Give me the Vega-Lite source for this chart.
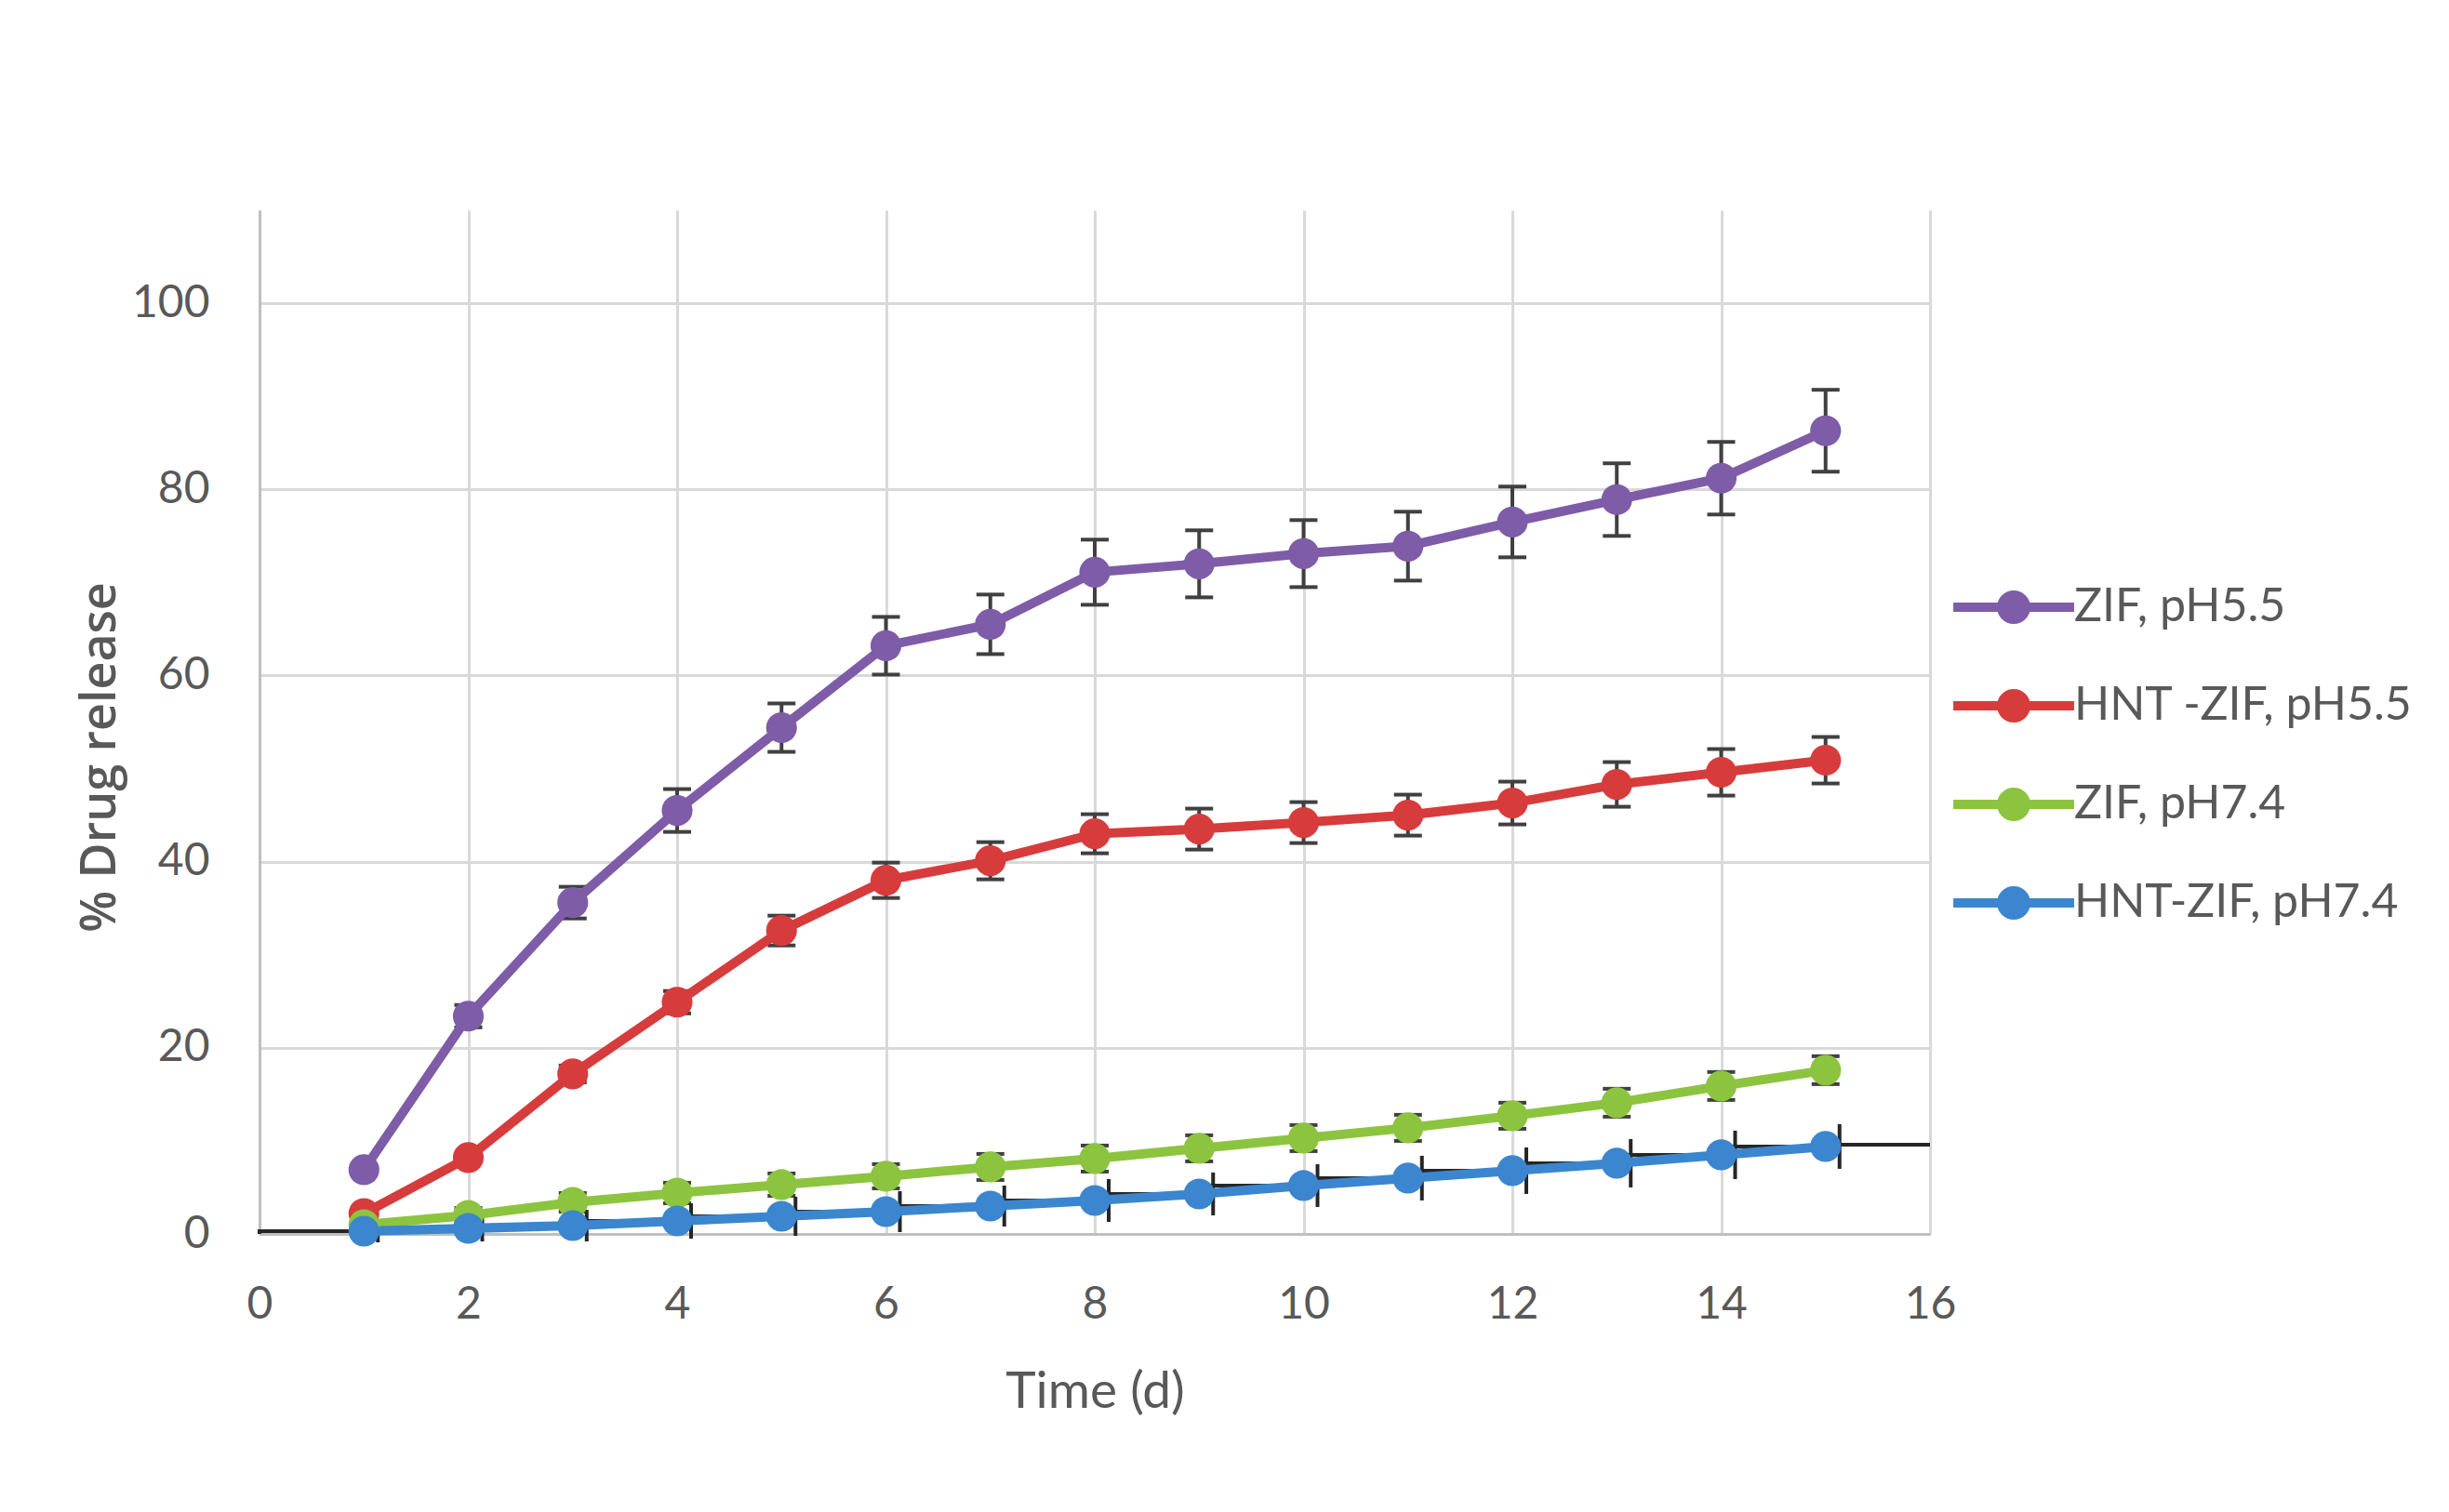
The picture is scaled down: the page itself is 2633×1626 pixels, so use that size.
{
  "$schema": "https://vega.github.io/schema/vega-lite/v6.json",
  "width": 1796,
  "height": 1101,
  "autosize": {"type": "none"},
  "padding": {"left": 279, "top": 226, "right": 558, "bottom": 299},
  "background": "white",
  "config": {
    "view": {"stroke": null},
    "font": "Lato",
    "axis": {
      "gridColor": "#D9D9D9",
      "gridWidth": 3,
      "domainColor": "#BFBFBF",
      "domainWidth": 3,
      "ticks": false,
      "labelFont": "Lato",
      "labelFontSize": 48,
      "labelColor": "#595959",
      "labelFlush": false,
      "titleColor": "#595959"
    }
  },
  "datasets": {
    "release": [
      {"s": "ZIF, pH5.5", "t": 1, "y": 6.9, "lo": 6.5, "hi": 7.3},
      {"s": "ZIF, pH5.5", "t": 2, "y": 23.4, "lo": 22.2, "hi": 24.6},
      {"s": "ZIF, pH5.5", "t": 3, "y": 35.6, "lo": 33.9, "hi": 37.3},
      {"s": "ZIF, pH5.5", "t": 4, "y": 45.5, "lo": 43.2, "hi": 47.8},
      {"s": "ZIF, pH5.5", "t": 5, "y": 54.4, "lo": 51.8, "hi": 57.0},
      {"s": "ZIF, pH5.5", "t": 6, "y": 63.2, "lo": 60.1, "hi": 66.3},
      {"s": "ZIF, pH5.5", "t": 7, "y": 65.5, "lo": 62.3, "hi": 68.7},
      {"s": "ZIF, pH5.5", "t": 8, "y": 71.1, "lo": 67.6, "hi": 74.6},
      {"s": "ZIF, pH5.5", "t": 9, "y": 72.0, "lo": 68.4, "hi": 75.6},
      {"s": "ZIF, pH5.5", "t": 10, "y": 73.1, "lo": 69.5, "hi": 76.7},
      {"s": "ZIF, pH5.5", "t": 11, "y": 73.9, "lo": 70.2, "hi": 77.6},
      {"s": "ZIF, pH5.5", "t": 12, "y": 76.5, "lo": 72.7, "hi": 80.3},
      {"s": "ZIF, pH5.5", "t": 13, "y": 78.9, "lo": 75.0, "hi": 82.8},
      {"s": "ZIF, pH5.5", "t": 14, "y": 81.2, "lo": 77.3, "hi": 85.1},
      {"s": "ZIF, pH5.5", "t": 15, "y": 86.3, "lo": 81.9, "hi": 90.7},
      {"s": "HNT -ZIF, pH5.5", "t": 1, "y": 2.2, "lo": 2.1, "hi": 2.3},
      {"s": "HNT -ZIF, pH5.5", "t": 2, "y": 8.2, "lo": 7.8, "hi": 8.6},
      {"s": "HNT -ZIF, pH5.5", "t": 3, "y": 17.2, "lo": 16.3, "hi": 18.1},
      {"s": "HNT -ZIF, pH5.5", "t": 4, "y": 24.9, "lo": 23.7, "hi": 26.1},
      {"s": "HNT -ZIF, pH5.5", "t": 5, "y": 32.6, "lo": 31.0, "hi": 34.2},
      {"s": "HNT -ZIF, pH5.5", "t": 6, "y": 38.0, "lo": 36.1, "hi": 39.9},
      {"s": "HNT -ZIF, pH5.5", "t": 7, "y": 40.1, "lo": 38.1, "hi": 42.1},
      {"s": "HNT -ZIF, pH5.5", "t": 8, "y": 43.0, "lo": 40.9, "hi": 45.1},
      {"s": "HNT -ZIF, pH5.5", "t": 9, "y": 43.5, "lo": 41.3, "hi": 45.7},
      {"s": "HNT -ZIF, pH5.5", "t": 10, "y": 44.2, "lo": 42.0, "hi": 46.4},
      {"s": "HNT -ZIF, pH5.5", "t": 11, "y": 45.0, "lo": 42.8, "hi": 47.2},
      {"s": "HNT -ZIF, pH5.5", "t": 12, "y": 46.3, "lo": 44.0, "hi": 48.6},
      {"s": "HNT -ZIF, pH5.5", "t": 13, "y": 48.3, "lo": 45.9, "hi": 50.7},
      {"s": "HNT -ZIF, pH5.5", "t": 14, "y": 49.6, "lo": 47.1, "hi": 52.1},
      {"s": "HNT -ZIF, pH5.5", "t": 15, "y": 50.9, "lo": 48.4, "hi": 53.4},
      {"s": "ZIF, pH7.4", "t": 1, "y": 1.0, "lo": 0.4, "hi": 1.6},
      {"s": "ZIF, pH7.4", "t": 2, "y": 2.0, "lo": 1.2, "hi": 2.8},
      {"s": "ZIF, pH7.4", "t": 3, "y": 3.4, "lo": 2.4, "hi": 4.4},
      {"s": "ZIF, pH7.4", "t": 4, "y": 4.4, "lo": 3.3, "hi": 5.5},
      {"s": "ZIF, pH7.4", "t": 5, "y": 5.3, "lo": 4.1, "hi": 6.5},
      {"s": "ZIF, pH7.4", "t": 6, "y": 6.2, "lo": 4.9, "hi": 7.5},
      {"s": "ZIF, pH7.4", "t": 7, "y": 7.2, "lo": 5.8, "hi": 8.6},
      {"s": "ZIF, pH7.4", "t": 8, "y": 8.1, "lo": 6.7, "hi": 9.5},
      {"s": "ZIF, pH7.4", "t": 9, "y": 9.2, "lo": 7.8, "hi": 10.6},
      {"s": "ZIF, pH7.4", "t": 10, "y": 10.3, "lo": 8.9, "hi": 11.7},
      {"s": "ZIF, pH7.4", "t": 11, "y": 11.4, "lo": 10.0, "hi": 12.8},
      {"s": "ZIF, pH7.4", "t": 12, "y": 12.7, "lo": 11.3, "hi": 14.1},
      {"s": "ZIF, pH7.4", "t": 13, "y": 14.1, "lo": 12.6, "hi": 15.6},
      {"s": "ZIF, pH7.4", "t": 14, "y": 15.9, "lo": 14.4, "hi": 17.4},
      {"s": "ZIF, pH7.4", "t": 15, "y": 17.6, "lo": 16.1, "hi": 19.1},
      {"s": "HNT-ZIF, pH7.4", "t": 1, "y": 0.3, "lo": -0.9, "hi": 1.5},
      {"s": "HNT-ZIF, pH7.4", "t": 2, "y": 0.6, "lo": -0.8, "hi": 2.0},
      {"s": "HNT-ZIF, pH7.4", "t": 3, "y": 0.9, "lo": -0.8, "hi": 2.6},
      {"s": "HNT-ZIF, pH7.4", "t": 4, "y": 1.4, "lo": -0.5, "hi": 3.3},
      {"s": "HNT-ZIF, pH7.4", "t": 5, "y": 1.9, "lo": -0.2, "hi": 4.0},
      {"s": "HNT-ZIF, pH7.4", "t": 6, "y": 2.4, "lo": 0.2, "hi": 4.6},
      {"s": "HNT-ZIF, pH7.4", "t": 7, "y": 3.0, "lo": 0.8, "hi": 5.2},
      {"s": "HNT-ZIF, pH7.4", "t": 8, "y": 3.6, "lo": 1.3, "hi": 5.9},
      {"s": "HNT-ZIF, pH7.4", "t": 9, "y": 4.3, "lo": 2.0, "hi": 6.6},
      {"s": "HNT-ZIF, pH7.4", "t": 10, "y": 5.2, "lo": 2.9, "hi": 7.5},
      {"s": "HNT-ZIF, pH7.4", "t": 11, "y": 6.0, "lo": 3.6, "hi": 8.4},
      {"s": "HNT-ZIF, pH7.4", "t": 12, "y": 6.8, "lo": 4.3, "hi": 9.3},
      {"s": "HNT-ZIF, pH7.4", "t": 13, "y": 7.6, "lo": 5.0, "hi": 10.2},
      {"s": "HNT-ZIF, pH7.4", "t": 14, "y": 8.5, "lo": 5.9, "hi": 11.1},
      {"s": "HNT-ZIF, pH7.4", "t": 15, "y": 9.4, "lo": 7.0, "hi": 11.8}
    ],
    "steps": [
      {"t": 0, "y": 0}, {"t": 1, "y": 0.3}, {"t": 2, "y": 0.6}, {"t": 3, "y": 0.9},
      {"t": 4, "y": 1.4}, {"t": 5, "y": 1.9}, {"t": 6, "y": 2.4}, {"t": 7, "y": 3.0},
      {"t": 8, "y": 3.6}, {"t": 9, "y": 4.3}, {"t": 10, "y": 5.2}, {"t": 11, "y": 6.0},
      {"t": 12, "y": 6.8}, {"t": 13, "y": 7.6}, {"t": 14, "y": 8.5}, {"t": 15, "y": 9.4},
      {"t": 16, "y": 9.6}
    ]
  },
  "encoding": {
    "x": {
      "field": "t",
      "type": "quantitative",
      "scale": {"domain": [0, 16], "nice": false},
      "axis": {
        "values": [0, 2, 4, 6, 8, 10, 12, 14, 16],
        "labelBaseline": "alphabetic",
        "labelPadding": 90,
        "title": "Time (d)",
        "titleFont": "Lato",
        "titleFontSize": 55,
        "titleFontWeight": "normal",
        "titleBaseline": "alphabetic",
        "titleY": 186
      }
    }
  },
  "layer": [
    {
      "data": {"name": "steps"},
      "mark": {"type": "line", "interpolate": "step-before", "color": "#262626", "strokeWidth": 4},
      "encoding": {
        "y": {
          "field": "y",
          "type": "quantitative",
          "scale": {"domain": [0, 110], "nice": false},
          "title": "% Drug release",
          "axis": {
            "values": [0, 20, 40, 60, 80, 100],
            "labelPadding": 54,
            "titleFont": "Open Sans",
            "titleFontSize": 52,
            "titleFontWeight": 600,
            "titleAngle": 270,
            "titleAlign": "center",
            "titleBaseline": "middle",
            "titleX": -172,
            "titleY": 588
          }
        }
      }
    },
    {
      "data": {"name": "release"},
      "transform": [{"filter": "datum.s != 'HNT-ZIF, pH7.4'"}],
      "mark": {
        "type": "errorbar",
        "ticks": {"size": 30, "thickness": 4, "color": "#404040", "opacity": 1},
        "rule": {"color": "#404040", "strokeWidth": 4}
      },
      "encoding": {
        "y": {"field": "lo", "type": "quantitative", "title": "% Drug release"},
        "y2": {"field": "hi"}
      }
    },
    {
      "data": {"name": "release"},
      "transform": [{"filter": "datum.s == 'HNT-ZIF, pH7.4'"}],
      "mark": {"type": "rule", "color": "#262626", "strokeWidth": 4, "xOffset": 15},
      "encoding": {
        "y": {"field": "lo", "type": "quantitative", "title": "% Drug release"},
        "y2": {"field": "hi"}
      }
    },
    {
      "data": {"name": "release"},
      "mark": {"type": "line", "strokeWidth": 10},
      "encoding": {
        "y": {"field": "y", "type": "quantitative", "title": "% Drug release"},
        "color": {
          "field": "s",
          "type": "nominal",
          "scale": {
            "domain": ["ZIF, pH5.5", "HNT -ZIF, pH5.5", "ZIF, pH7.4", "HNT-ZIF, pH7.4"],
            "range": ["#7E5CA8", "#D73C3C", "#8CC43F", "#3B86CE"]
          },
          "legend": {
            "title": null,
            "orient": "none",
            "legendX": 1861,
            "legendY": 402,
            "padding": 0,
            "symbolType": "M-3.82,0L3.82,0M0.76,0A0.76,0.76,0,1,1,-0.76,0A0.76,0.76,0,1,1,0.76,0Z",
            "symbolSize": 1156,
            "symbolStrokeWidth": 10,
            "labelFont": "Lato",
            "labelFontSize": 50,
            "labelColor": "#595959",
            "labelOffset": 40,
            "rowPadding": 40,
            "labelLimit": 600,
            "encode": {
              "symbols": {
                "update": {
                  "stroke": {"scale": "color", "field": "value"},
                  "fill": {"scale": "color", "field": "value"},
                  "strokeWidth": {"value": 10},
                  "opacity": {"value": 1}
                }
              }
            }
          }
        }
      }
    },
    {
      "data": {"name": "release"},
      "mark": {"type": "point", "filled": true, "size": 1100, "opacity": 1},
      "encoding": {
        "y": {"field": "y", "type": "quantitative", "title": "% Drug release"},
        "color": {"field": "s", "type": "nominal"}
      }
    }
  ]
}
